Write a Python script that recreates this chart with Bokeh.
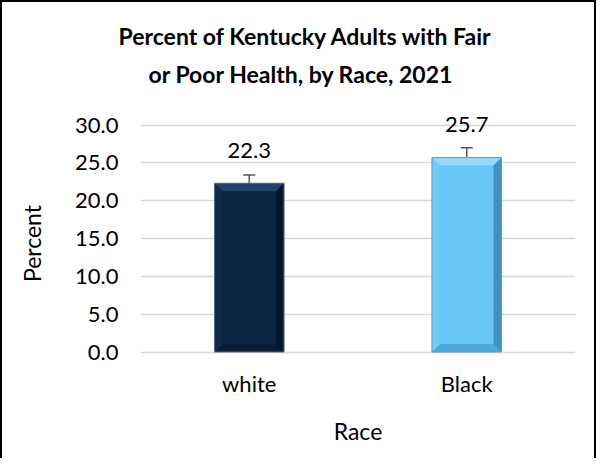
from bokeh.plotting import figure
from bokeh.models import (ColumnDataSource, FactorRange, Range1d, FixedTicker,
                          Whisker, TeeHead, Title, NumeralTickFormatter)
from bokeh.embed import file_html
from bokeh.resources import INLINE
from bokeh.core.properties import value

# ---- data ----
races = ["white", "Black"]
percent = [22.3, 25.7]
ci_lower = [21.2, 24.4]
ci_upper = [23.4, 27.0]
bar_colors = ["#0C2542", "#66C6F7"]
bevel_top = ["#21426A", "#95DAFB"]
bevel_left = ["#0F2B4C", "#70CBF8"]
bevel_right = ["#04162B", "#3F92C3"]
bevel_bottom = ["#071B33", "#4EA8D9"]
edge_colors = ["#5A6F88", "#6E93B0"]
y_ticks = [0, 5, 10, 15, 20, 25, 30]
title_lines = ["Percent of Kentucky Adults with Fair", "or Poor Health, by Race, 2021"]
x_title = "Race"
y_title = "Percent"

FONT = "Lato"
BAR_W = 0.32

# ---- layout (pixels) ----
W, H = 596, 458
B_LEFT, B_RIGHT, B_TOP, B_BOTTOM = 138, 23, 85, 61
FRAME_W = W - B_LEFT - B_RIGHT
FRAME_H = H - B_TOP - B_BOTTOM
PPU = 227 / 30            # pixels per percent unit
ZERO_PX = 47.5            # zero line above the frame bottom
Y_START = -ZERO_PX / PPU
Y_END = Y_START + FRAME_H / PPU

src = ColumnDataSource(dict(
    race=races, pct=percent, lo=ci_lower, hi=ci_upper,
    color=bar_colors, edge=edge_colors,
    lbl=[f"{v:.1f}" for v in percent],
))

p = figure(
    x_range=FactorRange(*races), y_range=Range1d(Y_START, Y_END),
    width=W, height=H, output_backend="svg", toolbar_location=None,
    min_border_left=B_LEFT, min_border_right=B_RIGHT,
    min_border_top=B_TOP, min_border_bottom=B_BOTTOM,
)
p.styles = {"border-top": "2px solid black", "border-left": "2px solid black",
            "border-right": "2px solid black"}
p.outline_line_color = None
p.background_fill_color = "white"
p.border_fill_color = "white"

# grid
p.xgrid.grid_line_color = None
p.ygrid.grid_line_color = "#D9D9D9"
p.ygrid.grid_line_width = 1.5

# bars (flat face)
p.vbar(x="race", top="pct", bottom=0, width=BAR_W, source=src,
       fill_color="color", line_color=None)

# bevel facets built from the bar values (synthetic categorical coordinates)
bx = 8 / (FRAME_W / len(races))      # 8 px in category units
by = 8 / PPU                         # 8 px in data units
facet_xs, facet_ys, facet_col = [], [], []
for i, v in enumerate(percent):
    c = i + 0.5
    l, r = c - BAR_W / 2, c + BAR_W / 2
    il, ir, it, ib = l + bx, r - bx, v - by, by
    facet_xs += [[l, r, ir, il], [l, r, ir, il], [l, il, il, l], [r, ir, ir, r]]
    facet_ys += [[v, v, it, it], [0, 0, ib, ib], [0, ib, it, v], [0, ib, it, v]]
    facet_col += [bevel_top[i], bevel_bottom[i], bevel_left[i], bevel_right[i]]
p.patches(xs=facet_xs, ys=facet_ys, fill_color=facet_col, line_color=None)

# bar outline
p.vbar(x="race", top="pct", bottom=0, width=BAR_W, source=src,
       fill_color=None, line_color="edge", line_width=1)

# error bars
w = Whisker(base="race", upper="hi", lower="lo", source=src,
            line_color="#595959", line_width=1.5,
            upper_head=TeeHead(size=12, line_color="#595959", line_width=1.5),
            lower_head=TeeHead(size=12, line_color="#595959", line_width=1.5))
p.add_layout(w)

# data labels
p.text(x="race", y="pct", text="lbl", source=src, text_align="center",
       text_baseline="alphabetic", y_offset=-33, text_font=value(FONT),
       text_font_size="22px", text_color="black")

# axes
p.yaxis.ticker = FixedTicker(ticks=y_ticks)
p.yaxis.formatter = NumeralTickFormatter(format="0.0")
for ax in (p.xaxis[0], p.yaxis[0]):
    ax.axis_line_color = None
    ax.major_tick_line_color = None
    ax.minor_tick_line_color = None
    ax.major_tick_out = 0
    ax.major_tick_in = 0
    ax.major_label_text_font = FONT
    ax.major_label_text_font_size = "22px"
    ax.major_label_text_color = "black"
    ax.axis_label_text_font = FONT
    ax.axis_label_text_font_size = "23px"
    ax.axis_label_text_font_style = "normal"
    ax.axis_label_text_color = "black"
p.yaxis.major_label_standoff = 22
p.xaxis.major_label_standoff = int(17 - ZERO_PX)
p.yaxis.axis_label = y_title
p.xaxis.axis_label = x_title
p.yaxis.axis_label_standoff = 26
p.xaxis.axis_label_standoff = 17

# title: two lines; line 2 nearest the plot is added first
p.add_layout(Title(text=title_lines[1], align="left", offset=8, standoff=0,
                   text_font=FONT, text_font_style="bold", text_font_size="23px",
                   text_color="black"), "above")
p.add_layout(Title(text=title_lines[0], align="left", offset=-22, standoff=16,
                   text_font=FONT, text_font_style="bold", text_font_size="23px",
                   text_color="black"), "above")

open("out.html", "w").write(file_html(p, INLINE))
